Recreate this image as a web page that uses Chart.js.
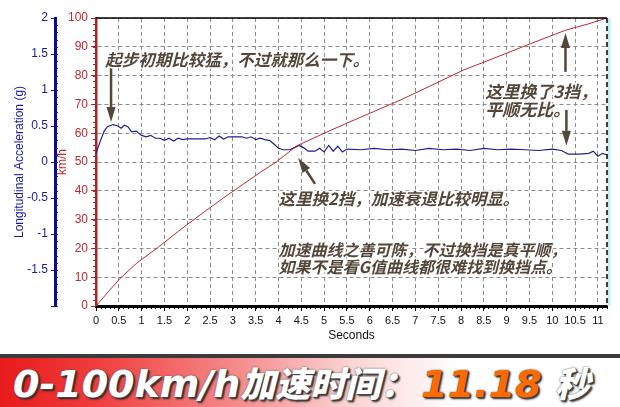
<!DOCTYPE html>
<html>
<head>
<meta charset="utf-8">
<script src="https://cdn.jsdelivr.net/npm/chart.js@4.4.1/dist/chart.umd.min.js"></script>
<style>
body { margin: 0; background: #fff; width: 620px; height: 407px; overflow: hidden; position: relative; }
#chart { display: block; }
#banner {
    position: absolute; left: 0; top: 354px; width: 620px; height: 53px; box-sizing: border-box;
    border-top: 4px solid #3b3b3b;
    background: linear-gradient(to right, #e81b1b 0%, #f03c3c 15%, #f58a8a 38%, #fbd2d2 56%, #ffffff 74%, #ffffff 100%);
    font: italic bold 38px "DejaVu Sans", sans-serif;
    line-height: 48px; white-space: nowrap; padding-left: 13px; color: #fff;
    text-shadow: 1px 1px 0 #444, 2px 2px 2px #222, 0 0 2px #555;
}
#banner .cn { font-family: "Noto Sans CJK SC", sans-serif; font-weight: 900; font-size: 35px; }
#banner .num { color: #ff6a00; margin-left: 6px; }
</style>
</head>
<body>
<canvas id="chart" width="620" height="354"></canvas>
<div id="banner">0-100km/h<span class="cn">加速时间：</span><span class="num">11.18</span> <span class="cn">秒</span></div>
<script>
// speed trace (seconds, km/h)
const speedTimes  = [0, 0.25, 0.53, 0.9, 1.33, 1.7, 2.0, 2.4, 2.8, 3.2, 3.6, 3.95, 4.4, 5.0, 5.5, 6.0, 6.67, 7.3, 8.05, 8.7, 9.4, 10.0, 10.3, 10.8, 11.2];
const speedValues = [0, 4.6, 9.6, 15.0, 20.0, 24.6, 28.3, 33.0, 37.6, 42.0, 46.4, 50.0, 55.6, 60.0, 63.5, 66.9, 71.5, 76.2, 81.9, 85.9, 90.3, 94.0, 95.8, 98.0, 100];

// longitudinal acceleration trace (seconds, g)
const accelTimes  = [0, 0.1, 0.18, 0.25, 0.37, 0.48, 0.55, 0.62, 0.7, 0.78, 0.88, 1.0, 1.1, 1.2, 1.3, 1.4, 1.5, 1.6, 1.7, 1.8, 1.9, 2.0, 2.2, 2.4, 2.5, 2.6, 2.7, 2.8, 2.9, 3.0, 3.2, 3.3, 3.4, 3.5, 3.6, 3.7, 3.8, 3.9, 4.0, 4.1, 4.25, 4.35, 4.45, 4.55, 4.65, 4.8, 4.9, 5.0, 5.1, 5.2, 5.3, 5.4, 5.5, 5.8, 6.1, 6.4, 6.7, 7.0, 7.3, 7.6, 7.9, 8.2, 8.5, 8.8, 9.1, 9.4, 9.7, 10.0, 10.2, 10.35, 10.6, 10.8, 10.9, 11.0, 11.1, 11.2];
const accelValues = [0.12, 0.30, 0.43, 0.49, 0.52, 0.50, 0.47, 0.51, 0.49, 0.42, 0.43, 0.37, 0.35, 0.37, 0.33, 0.33, 0.30, 0.33, 0.29, 0.33, 0.31, 0.32, 0.32, 0.32, 0.34, 0.31, 0.36, 0.32, 0.35, 0.35, 0.35, 0.33, 0.35, 0.31, 0.33, 0.31, 0.30, 0.25, 0.19, 0.17, 0.17, 0.20, 0.23, 0.20, 0.15, 0.15, 0.19, 0.14, 0.23, 0.15, 0.22, 0.14, 0.18, 0.17, 0.19, 0.17, 0.18, 0.16, 0.19, 0.17, 0.18, 0.16, 0.19, 0.17, 0.18, 0.17, 0.16, 0.18, 0.16, 0.11, 0.11, 0.12, 0.15, 0.08, 0.12, 0.10];

const hiddenGTicks = [-2];

// callouts, anchored in data units (seconds, km/h)
const notes = [
    { lines: ['起步初期比较猛，不过就那么一下。'], t: 0.2, v: 85.4, size: 16.5 },
    { lines: ['这里换2挡，加速衰退比较明显。'], t: 4.0, v: 37.2, size: 16.5 },
    { lines: ['加速曲线之善可陈，不过换挡是真平顺，', '如果不是看G值曲线都很难找到换挡点。'], t: 4.0, v: 19.4, size: 16 },
    { lines: ['这里换了3挡，', '平顺无比。'], t: 8.53, v: 74.3, size: 17 }
];
const arrows = [
    { t0: 0.33, v0: 82.6, t1: 0.33, v1: 63.9 },
    { t0: 4.80, v0: 42.4, t1: 4.43, v1: 51.4 },
    { t0: 10.29, v0: 81.3, t1: 10.29, v1: 94.8 },
    { t0: 10.31, v0: 68.1, t1: 10.31, v1: 55.6 }
];

const ink = '#54473a';

const framePlugin = {
    id: 'frame',
    afterDatasetsDraw(chart) {
        const { ctx, chartArea: a, scales } = chart;
        const x = scales.x, y = scales.y;
        ctx.save();
        // top and right frame
        ctx.strokeStyle = '#000';
        ctx.lineWidth = 1.5;
        ctx.beginPath(); ctx.moveTo(a.left, a.top); ctx.lineTo(a.right, a.top); ctx.stroke();
        ctx.strokeStyle = '#bfeff2';
        ctx.lineWidth = 3;
        ctx.beginPath(); ctx.moveTo(a.right + 2, a.top); ctx.lineTo(a.right + 2, a.bottom); ctx.stroke();
        ctx.strokeStyle = '#000';
        ctx.lineWidth = 1.5;
        ctx.setLineDash([5, 3]);
        ctx.beginPath(); ctx.moveTo(a.right, a.top); ctx.lineTo(a.right, a.bottom); ctx.stroke();
        ctx.setLineDash([]);

        // minor ticks
        ctx.lineWidth = 1;
        ctx.strokeStyle = '#000';
        for (let s = 0; s <= 11.2; s += 0.1) {
            const px = Math.round(x.getPixelForValue(s)) + 0.5;
            ctx.beginPath(); ctx.moveTo(px, a.bottom); ctx.lineTo(px, a.bottom + 3); ctx.stroke();
        }
        ctx.strokeStyle = '#b22222';
        for (let v = 0; v <= 100; v += 2) {
            const py = Math.round(y.getPixelForValue(v)) + 0.5;
            ctx.beginPath(); ctx.moveTo(a.left - 3, py); ctx.lineTo(a.left, py); ctx.stroke();
        }
        const g = scales.g;
        ctx.strokeStyle = '#1a1a9a';
        for (let v = -2; v <= 2; v += 0.1) {
            const py = Math.round(g.getPixelForValue(v)) + 0.5;
            ctx.beginPath(); ctx.moveTo(g.right, py); ctx.lineTo(g.right + 3, py); ctx.stroke();
        }

        // arrows
        ctx.strokeStyle = ink;
        ctx.fillStyle = ink;
        ctx.lineWidth = 2.5;
        arrows.forEach(ar => {
            const x0 = x.getPixelForValue(ar.t0), y0 = y.getPixelForValue(ar.v0);
            const x1 = x.getPixelForValue(ar.t1), y1 = y.getPixelForValue(ar.v1);
            const ang = Math.atan2(y1 - y0, x1 - x0);
            const hl = 15, hw = 4.5;
            const bx = x1 - hl * Math.cos(ang), by = y1 - hl * Math.sin(ang);
            ctx.beginPath(); ctx.moveTo(x0, y0); ctx.lineTo(bx, by); ctx.stroke();
            ctx.beginPath();
            ctx.moveTo(x1, y1);
            ctx.lineTo(bx + hw * Math.sin(ang), by - hw * Math.cos(ang));
            ctx.lineTo(bx - hw * Math.sin(ang), by + hw * Math.cos(ang));
            ctx.closePath(); ctx.fill();
        });

        // callout texts
        ctx.textBaseline = 'middle';
        ctx.textAlign = 'left';
        notes.forEach(n => {
            ctx.font = 'italic 700 ' + n.size + 'px "Noto Sans CJK SC", sans-serif';
            const px = x.getPixelForValue(n.t);
            n.lines.forEach((line, i) => {
                const py = y.getPixelForValue(n.v) + i * (n.size + 0.5);
                ctx.lineWidth = 3;
                ctx.strokeStyle = 'rgba(255,255,255,0.85)';
                ctx.strokeText(line, px, py);
                ctx.fillStyle = ink;
                ctx.fillText(line, px, py);
            });
        });
        ctx.restore();
    }
};

const ctx = document.getElementById('chart').getContext('2d');
const chart = new Chart(ctx, {
    type: 'line',
    data: {
        datasets: [{
            label: 'km/h',
            data: speedTimes.map((t, i) => ({ x: t, y: speedValues[i] })),
            borderColor: '#c0282d',
            borderWidth: 1,
            pointRadius: 0,
            tension: 0,
            yAxisID: 'y'
        }, {
            label: 'Longitudinal Acceleration (g)',
            data: accelTimes.map((t, i) => ({ x: t, y: accelValues[i] })),
            borderColor: '#1f1f8c',
            borderWidth: 1.2,
            pointRadius: 0,
            tension: 0,
            yAxisID: 'g'
        }]
    },
    options: {
        responsive: false,
        animation: false,
        devicePixelRatio: 1,
        layout: { padding: { top: 18, right: 13, bottom: 0, left: 0 } },
        plugins: { legend: { display: false }, tooltip: { enabled: false } },
        scales: {
            x: {
                type: 'linear', min: 0, max: 11.2,
                afterFit: s => { s.height = 48; },
                ticks: { stepSize: 0.5, includeBounds: false, autoSkip: false, maxRotation: 0, padding: 3,
                         color: '#111', font: { family: '"Liberation Sans", Arial', size: 11 },
                         callback: v => String(v) },
                grid: { color: '#8c8c8c', lineWidth: 1, tickColor: '#000', tickLength: 5 },
                border: { display: true, color: '#000', width: 3, dash: [4, 3] },
                title: { display: true, text: 'Seconds', color: '#111', padding: { top: 0, bottom: 11 },
                         font: { family: '"Liberation Sans", Arial', size: 12 } }
            },
            y: {
                position: 'left', weight: 0, min: 0, max: 100,
                afterFit: s => { s.width = 41; },
                ticks: { stepSize: 10, padding: 3, color: '#c0282d', font: { family: '"Liberation Sans", Arial', size: 12 } },
                grid: { color: '#8c8c8c', lineWidth: 1, tickColor: '#b22222', tickLength: 5 },
                border: { display: true, color: '#b22222', width: 2.5, dash: [4, 3] },
                title: { display: true, text: 'km/h', color: '#c0282d', padding: { top: 0, bottom: 0 },
                         font: { family: '"Liberation Sans", Arial', size: 12 } }
            },
            g: {
                position: 'left', weight: 1, min: -2, max: 2,
                afterFit: s => { s.width = 55; },
                ticks: { stepSize: 0.5, padding: 3, color: '#1a1a9a',
                         font: { family: '"Liberation Sans", Arial', size: 12 },
                         callback: v => hiddenGTicks.includes(v) ? '' : String(v) },
                grid: { drawOnChartArea: false, tickColor: '#1a1a9a', tickLength: 4 },
                border: { display: true, color: '#0a0a9a', width: 3 },
                title: { display: true, text: 'Longitudinal Acceleration (g)', color: '#1a1a9a', padding: { top: 12, bottom: 0 },
                         font: { family: '"Liberation Sans", Arial', size: 12 } }
            }
        }
    },
    plugins: [framePlugin]
});
</script>
</body>
</html>
